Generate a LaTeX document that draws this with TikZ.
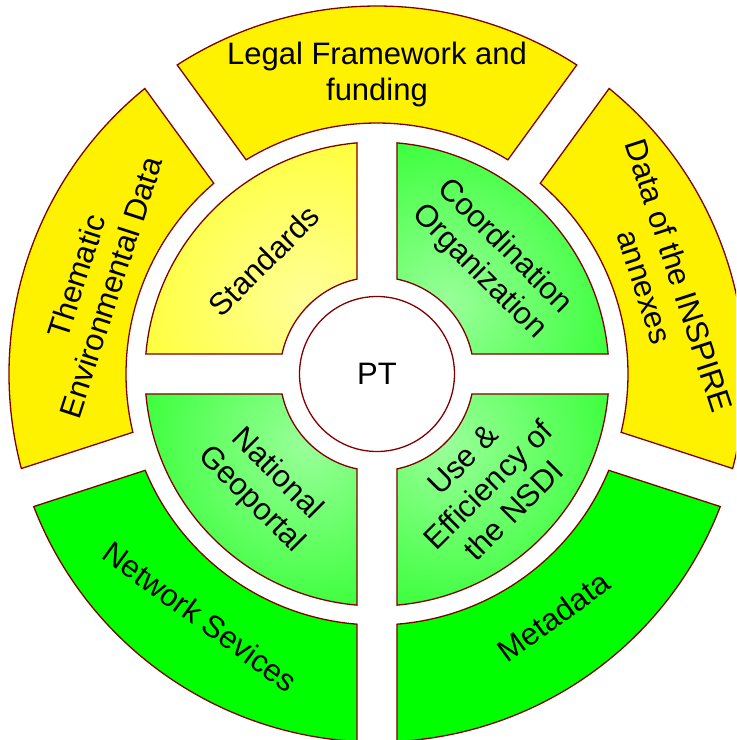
\documentclass[tikz,border=0pt]{standalone}
\usepackage{fontspec}
\setmainfont{Liberation Sans}
\usepackage{tikz}
\definecolor{rimred}{RGB}{128,0,0}
\newcommand{\ringgap}{20}
% one piece of a ring: from angle, to angle, inner radius, outer radius
\newcommand{\ringpart}[4]{({#1+asin(\ringgap/#3)}:#3) -- ({#1+asin(\ringgap/#4)}:#4)
	arc[start angle={#1+asin(\ringgap/#4)}, end angle={#2-asin(\ringgap/#4)}, radius=#4]
	-- ({#2-asin(\ringgap/#3)}:#3)
	arc[start angle={#2-asin(\ringgap/#3)}, end angle={#1+asin(\ringgap/#3)}, radius=#3] -- cycle}
\tikzset{
	seg/.style={draw=rimred, line width=0.65pt},
	outeryellow/.style={seg, fill=yellow},
	outergreen/.style={seg, fill=green},
	segtext/.style={font=\fontsize{15.5}{18}\selectfont, align=center, inner sep=0pt},
	hub/.style={circle, draw=rimred, fill=white, line width=0.65pt, minimum size=77.5pt,
		inner sep=0pt, font=\fontsize{15.5}{18}\selectfont},
}
\begin{document}
\begin{tikzpicture}[x=0.5pt, y=0.5pt]
	\useasboundingbox (-377,-366) rectangle (359,374);
	\clip (-377,-366) rectangle (359,374);
	% outer ring
	\draw[outeryellow] \ringpart{54}{126}{251}{368};
	\draw[outeryellow] \ringpart{126}{198}{251}{368};
	\draw[outergreen] \ringpart{198}{270}{251}{368};
	\draw[outergreen] \ringpart{270}{342}{251}{368};
	\draw[outeryellow] \ringpart{-18}{54}{251}{368};
	% inner quadrants
	\begin{scope}
		\clip \ringpart{90}{180}{97}{232};
		\shade[inner color=yellow!40, outer color=yellow] (135:100) circle (280);
	\end{scope}
	\begin{scope}
		\clip \ringpart{0}{90}{97}{232};
		\shade[inner color=green!40, outer color=green] (45:100) circle (280);
	\end{scope}
	\begin{scope}
		\clip \ringpart{180}{270}{97}{232};
		\shade[inner color=green!40, outer color=green] (225:100) circle (280);
	\end{scope}
	\begin{scope}
		\clip \ringpart{270}{360}{97}{232};
		\shade[inner color=green!40, outer color=green] (315:100) circle (280);
	\end{scope}
	\draw[seg] \ringpart{90}{180}{97}{232};
	\draw[seg] \ringpart{0}{90}{97}{232};
	\draw[seg] \ringpart{180}{270}{97}{232};
	\draw[seg] \ringpart{270}{360}{97}{232};
	\node[hub] (pt) at (0,0) {PT};
	% labels
	\node[segtext] (legal) at (90:300) {Legal Framework and\\funding};
	\node[segtext, rotate=72] (thematic) at (162:298) {Thematic\\Environmental Data};
	\node[segtext, rotate=-72] (annexes) at (18:300) {Data of the INSPIRE\\annexes};
	\node[segtext, rotate=-36] (network) at (234:300) {Network Sevices};
	\node[segtext, rotate=36] (metadata) at (306:300) {Metadata};
	\node[segtext, rotate=45] (standards) at (135:160) {Standards};
	\node[segtext, rotate=-45] (coord) at (45:162) {Coordination\\Organization};
	\node[segtext, rotate=-45] (geoportal) at (225:160) {National\\Geoportal};
	\node[segtext, rotate=45] (nsdi) at (315:157) {Use \&\\Efficiency of\\the NSDI};
\end{tikzpicture}
\end{document}
